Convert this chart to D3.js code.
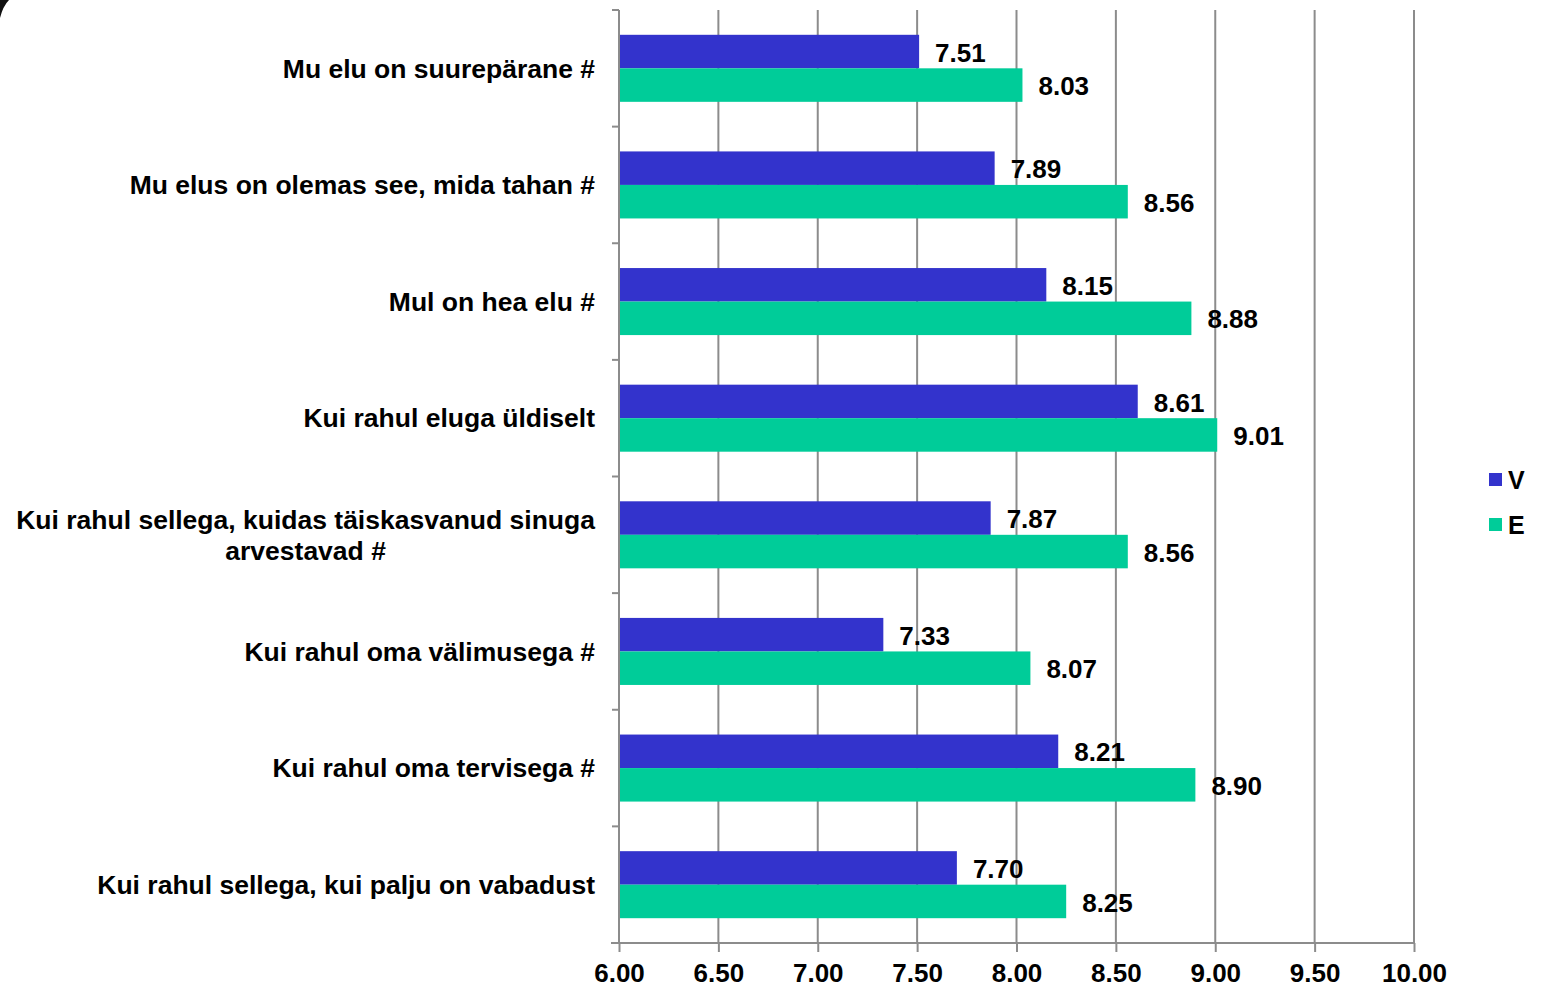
<!DOCTYPE html>
<html>
<head>
<meta charset="utf-8">
<script src="https://cdn.jsdelivr.net/npm/d3@7"></script>
<style>
  html, body { margin: 0; padding: 0; background: #fff; }
  svg { display: block; font-family: "Liberation Sans", Arial, sans-serif; font-weight: bold; }
</style>
</head>
<body>
<div id="chart"></div>
<script>
const categories = [
  'Mu elu on suurepärane #',
  'Mu elus on olemas see, mida tahan #',
  'Mul on hea elu #',
  'Kui rahul eluga üldiselt',
  'Kui rahul sellega, kuidas täiskasvanud sinuga|arvestavad #',
  'Kui rahul oma välimusega #',
  'Kui rahul oma tervisega #',
  'Kui rahul sellega, kui palju on vabadust'
];
const seriesNames = ['V', 'E'];
const vValues = [7.51, 7.89, 8.15, 8.61, 7.87, 7.33, 8.21, 7.70];
const eValues = [8.03, 8.56, 8.88, 9.01, 8.56, 8.07, 8.90, 8.25];
const xTicks = [6, 6.5, 7, 7.5, 8, 8.5, 9, 9.5, 10];

const width = 1543;
const height = 988;
const plot = { left: 619, right: 1414, top: 10, bottom: 943 };
const colors = { V: '#3333CC', E: '#00CC99' };
const gridColor = '#8c8c8c';

const rows = categories.map((c, i) => ({ cat: c, V: vValues[i], E: eValues[i] }));

const svg = d3.select('#chart').append('svg')
  .attr('width', width)
  .attr('height', height);

// corner decoration seen at top-left
svg.append('path')
  .attr('d', 'M0,0 L9,0 Q3,6 0,18 Z')
  .attr('fill', '#111');

const x = d3.scaleLinear().domain([6, 10]).range([plot.left, plot.right]);
const y0 = d3.scaleBand().domain(categories).range([plot.top, plot.bottom]).padding(0);
const y1 = d3.scaleBand().domain(seriesNames).range([0, y0.bandwidth()])
  .paddingInner(0).paddingOuter(0.74);

// vertical gridlines
svg.append('g').selectAll('line')
  .data(xTicks.slice(1))
  .join('line')
  .attr('x1', (d) => x(d)).attr('x2', (d) => x(d))
  .attr('y1', plot.top).attr('y2', plot.bottom)
  .attr('stroke', gridColor).attr('stroke-width', 2);

// bars
const groups = svg.append('g').selectAll('g')
  .data(rows)
  .join('g')
  .attr('transform', (d) => `translate(0,${y0(d.cat)})`);

groups.selectAll('rect')
  .data((d) => seriesNames.map((s) => ({ s, v: d[s] })))
  .join('rect')
  .attr('x', x(6))
  .attr('y', (d) => y1(d.s))
  .attr('width', (d) => x(d.v) - x(6))
  .attr('height', y1.bandwidth())
  .attr('fill', (d) => colors[d.s]);

groups.selectAll('text')
  .data((d) => seriesNames.map((s) => ({ s, v: d[s] })))
  .join('text')
  .attr('x', (d) => x(d.v) + 16)
  .attr('y', (d) => y1(d.s) + y1.bandwidth() / 2 + 1)
  .attr('dy', '0.35em')
  .attr('font-size', 26)
  .attr('fill', '#000')
  .text((d) => d3.format('.2f')(d.v));

// bottom axis
const xAxis = svg.append('g')
  .attr('transform', `translate(0,${plot.bottom})`)
  .call(d3.axisBottom(x).tickValues(xTicks).tickFormat(d3.format('.2f')).tickSize(9).tickSizeOuter(0));
xAxis.select('.domain').attr('stroke', gridColor).attr('stroke-width', 2)
  .attr('d', `M${plot.left - 8},0H${plot.right}`);
xAxis.selectAll('.tick line').attr('stroke', gridColor).attr('stroke-width', 2);
xAxis.selectAll('.tick text')
  .attr('fill', '#000')
  .attr('font-size', 26)
  .attr('font-family', '"Liberation Sans", Arial, sans-serif')
  .attr('font-weight', 'bold')
  .attr('dy', 0)
  .attr('y', 39);

// left axis line with ticks at band edges
const yAxis = svg.append('g');
yAxis.append('line')
  .attr('x1', plot.left).attr('x2', plot.left)
  .attr('y1', plot.top).attr('y2', plot.bottom)
  .attr('stroke', gridColor).attr('stroke-width', 2);
yAxis.selectAll('.btick')
  .data(categories)
  .join('line')
  .attr('class', 'btick')
  .attr('x1', plot.left - 7).attr('x2', plot.left)
  .attr('y1', (d) => y0(d)).attr('y2', (d) => y0(d))
  .attr('stroke', gridColor).attr('stroke-width', 2);

// category labels
const labelRight = 595;
const lineGap = 31;
svg.append('g').selectAll('text')
  .data(categories)
  .join('text')
  .attr('font-size', 26.5)
  .attr('fill', '#000')
  .each(function (d) {
    const lines = d.split('|');
    const t = d3.select(this);
    const cy = y0(d) + y0.bandwidth() / 2;
    lines.forEach((ln, i) => {
      t.append('tspan')
        .attr('y', cy + (i - (lines.length - 1) / 2) * lineGap)
        .attr('dy', '0.35em')
        .text(ln);
    });
    if (lines.length === 1) {
      t.attr('text-anchor', 'end').selectAll('tspan').attr('x', labelRight);
    } else {
      const widths = t.selectAll('tspan').nodes().map((n) => n.getComputedTextLength());
      const maxW = d3.max(widths);
      t.attr('text-anchor', 'middle').selectAll('tspan').attr('x', labelRight - maxW / 2);
    }
  });

// legend
const legend = svg.append('g').selectAll('g')
  .data(seriesNames)
  .join('g')
  .attr('transform', (d, i) => `translate(1489,${473 + i * 45})`);
legend.append('rect')
  .attr('width', 13).attr('height', 13)
  .attr('fill', (d) => colors[d]);
legend.append('text')
  .attr('x', 19).attr('y', 7).attr('dy', '0.35em')
  .attr('font-size', 25)
  .attr('fill', '#000')
  .text((d) => d);
</script>
</body>
</html>
